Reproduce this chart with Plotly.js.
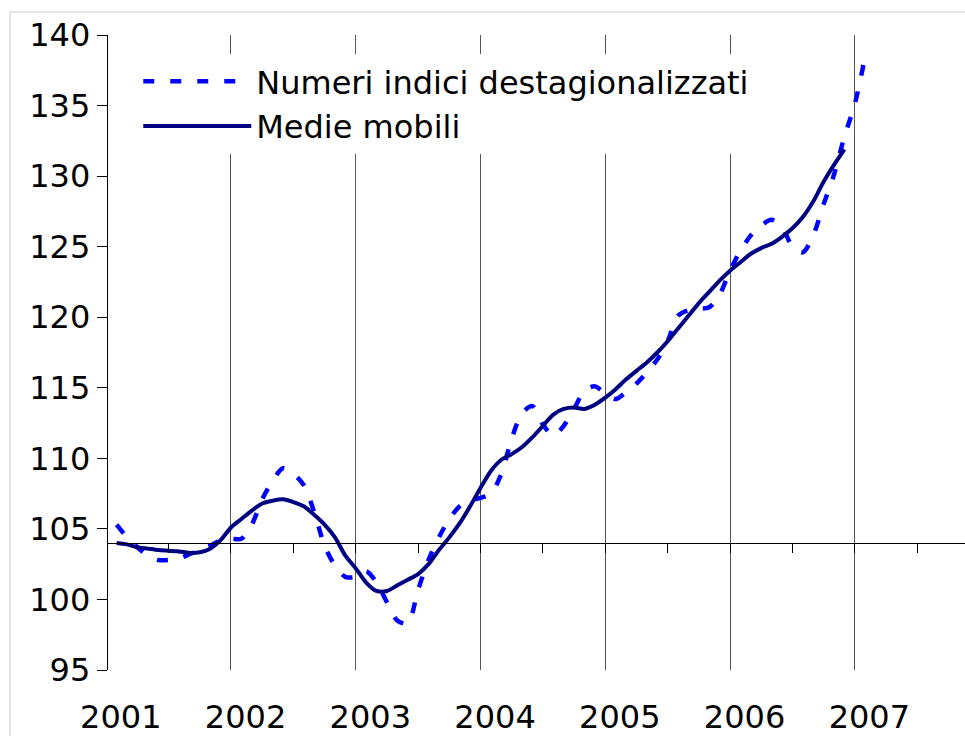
<!DOCTYPE html>
<html><head><meta charset="utf-8">
<script src="https://cdn.plot.ly/plotly-3.0.1.min.js"></script>
<style>html,body{margin:0;padding:0;background:#fff}#chart{width:965px;height:736px}</style>
</head><body><div id="chart"></div>
<script>
// Monthly series starting January 2001
const yearLabels = ['2001','2002','2003','2004','2005','2006','2007'];
const seriesNames = ['Numeri indici destagionalizzati', 'Medie mobili'];

const indici = [
  105.3,104.4,103.7,103.1,102.8,102.8,102.9,103.2,103.5,103.8,104.2,104.3,
  104.3,105.3,107.1,108.4,109.3,108.9,108.1,106.2,103.8,102.4,101.6,101.6,
  102.0,101.2,99.8,98.5,98.3,100.7,102.8,104.4,105.7,106.6,107.0,107.2,
  107.5,108.9,111.4,113.2,113.7,112.4,111.6,112.3,113.5,114.8,115.1,114.6,
  114.2,114.7,115.3,116.1,117.0,118.3,120.1,120.5,120.6,120.7,121.6,123.3,
  124.7,125.8,126.5,126.9,126.4,125.0,124.6,125.8,128.0,130.1,132.8,135.1,
  138.5
];
const medie = [
  104.0,103.9,103.7,103.6,103.5,103.45,103.4,103.3,103.35,103.6,104.2,105.1,
  105.7,106.3,106.8,107.0,107.1,106.9,106.6,106.0,105.3,104.4,103.1,102.2,
  101.2,100.6,100.6,101.0,101.4,101.8,102.5,103.5,104.4,105.4,106.6,107.9,
  109.1,109.9,110.3,110.8,111.5,112.3,113.1,113.5,113.6,113.5,113.8,114.3,
  114.9,115.6,116.2,116.8,117.5,118.3,119.2,120.1,121.0,121.8,122.6,123.3,
  123.9,124.5,124.9,125.2,125.7,126.3,127.1,128.2,129.6,130.8,131.9
];

const monthIdx = n => Array.from({length: n}, (_, i) => i);
const FONT = 'DejaVu Sans, Liberation Sans, Arial, sans-serif';
const FS = 32;
const xr = [-0.83, 81.6];

const traces = [
  {x: monthIdx(indici.length), y: indici, name: seriesNames[0], type: 'scatter', mode: 'lines',
   line: {color: '#0000FF', width: 4.5, dash: '11px,16px', shape: 'spline', smoothing: 0.8}, hoverinfo: 'skip'},
  {x: monthIdx(medie.length), y: medie, name: seriesNames[1], type: 'scatter', mode: 'lines',
   line: {color: '#000080', width: 4, shape: 'spline', smoothing: 0.8}, hoverinfo: 'skip'},
  {x: [], y: [], xaxis: 'x2', showlegend: false, hoverinfo: 'skip'},
  {x: [], y: [], xaxis: 'x3', showlegend: false, hoverinfo: 'skip'}
];

const layout = {
  width: 965, height: 736,
  margin: {l: 108, r: 0, t: 35, b: 66, pad: 0},
  paper_bgcolor: '#fff', plot_bgcolor: 'rgba(0,0,0,0)',
  font: {family: FONT, color: '#000', size: FS},
  showlegend: true,
  legend: {x: 0.0353, y: 0.97, xanchor: 'left', yanchor: 'top', bgcolor: '#fff', borderwidth: 0,
           font: {family: FONT, size: FS, color: '#000'}, itemwidth: 108, tracegroupgap: 0},
  xaxis: {range: xr, tickmode: 'array', tickvals: yearLabels.map((_, k) => 12 * k + 0.4), ticktext: yearLabels,
          ticks: 'outside', ticklen: 19, tickcolor: 'rgba(0,0,0,0)', showgrid: false, zeroline: false, showline: false,
          tickfont: {family: FONT, size: FS, color: '#000'}, fixedrange: true},
  xaxis2: {overlaying: 'x', anchor: 'free', position: 0.2, range: xr, tickmode: 'linear', tick0: 5, dtick: 6,
           ticks: 'outside', ticklen: 9, tickcolor: '#000', tickwidth: 1, showticklabels: false,
           showline: true, linecolor: '#000', linewidth: 1.3, showgrid: false, zeroline: false},
  xaxis3: {overlaying: 'x', range: xr, tickmode: 'array', tickvals: yearLabels.slice(1).map((_, k) => 12 * k + 11),
           showgrid: true, gridcolor: '#555', gridwidth: 1, ticks: '', showticklabels: false, showline: false, zeroline: false},
  yaxis: {range: [95, 140], tickmode: 'linear', tick0: 95, dtick: 5, ticks: 'outside', ticklen: 10, tickcolor: '#000',
          showline: true, linecolor: '#000', linewidth: 1.3, showgrid: false, zeroline: false,
          tickfont: {family: FONT, size: FS, color: '#000'}, fixedrange: true},
  shapes: [
    {type: 'rect', xref: 'paper', yref: 'paper', x0: -0.1144, x1: 1.2, y0: -0.3, y1: 1.0362,
     line: {color: '#c8c8c8', width: 1}, fillcolor: 'rgba(0,0,0,0)', layer: 'below'}
  ]
};

Plotly.newPlot('chart', traces, layout, {staticPlot: true, displayModeBar: false});
</script>
</body></html>
